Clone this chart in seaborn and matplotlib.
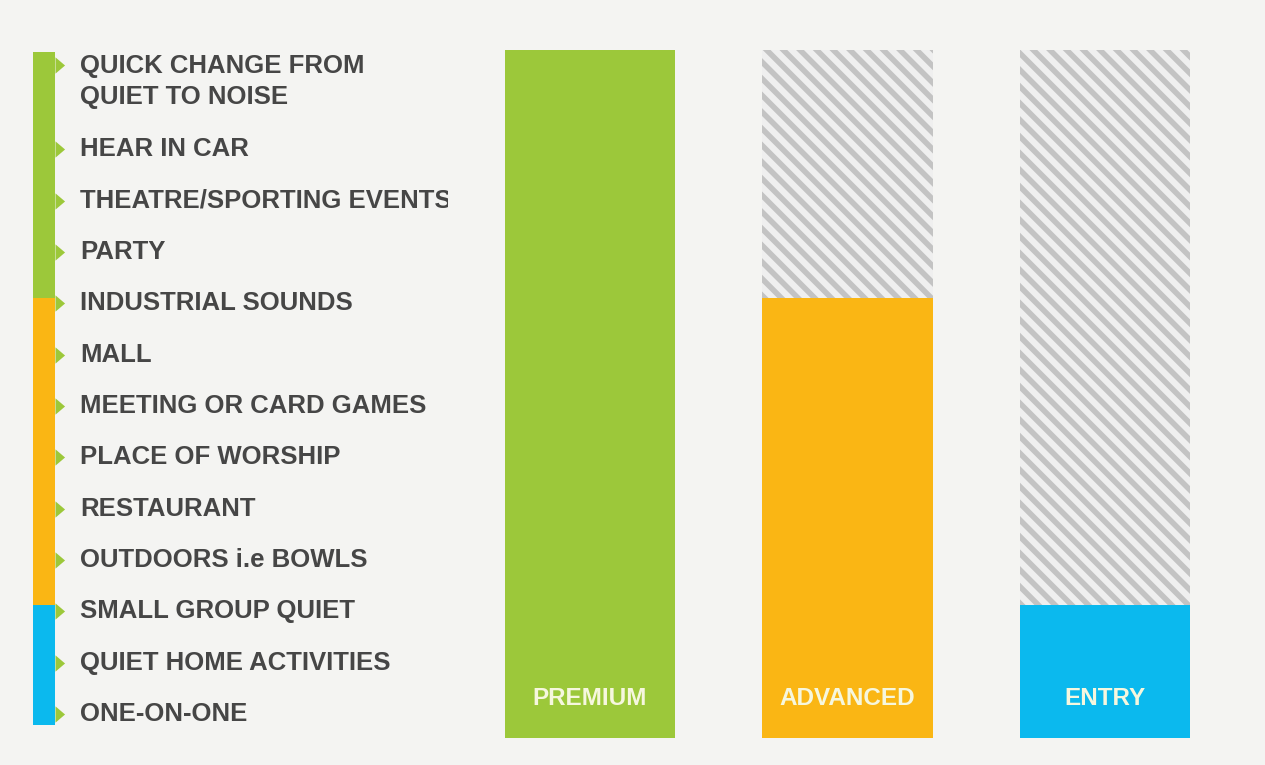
import numpy as np
import seaborn as sns
import matplotlib.pyplot as plt

# tiers and how far up the listening-environment scale each one reaches (% of full scale)
tiers = ["PREMIUM", "ADVANCED", "ENTRY"]
levels = [100, 64.0, 19.3]
tier_colors = ["#9cc83a", "#fab614", "#0bb9ee"]

# environments, bottom (easiest) to top (hardest)
environments = [
    "ONE-ON-ONE",
    "QUIET HOME ACTIVITIES",
    "SMALL GROUP QUIET",
    "OUTDOORS i.e BOWLS",
    "RESTAURANT",
    "PLACE OF WORSHIP",
    "MEETING OR CARD GAMES",
    "MALL",
    "INDUSTRIAL SOUNDS",
    "PARTY",
    "THEATRE/SPORTING EVENTS",
    "HEAR IN CAR",
    "QUICK CHANGE FROM\nQUIET TO NOISE",
]

sns.set_theme(style="white")
plt.rcParams["font.family"] = ["Liberation Sans", "DejaVu Sans"]
plt.rcParams["hatch.linewidth"] = 4.0

bg = "#f4f4f2"
text_grey = "#464646"

fig = plt.figure(figsize=(12.65, 7.65), dpi=100, facecolor=bg)
W, H = 1265.0, 765.0
y_bot, y_top = 738.0, 50.0
ax_b = (H - y_bot) / H
ax_h = (y_bot - y_top) / H

# ---- bars ----
ax = fig.add_axes([461 / W, ax_b, 773 / W, ax_h])
ax.set_facecolor(bg)
sns.barplot(x=tiers, y=[100] * len(tiers), color="#efefef", saturation=1,
            width=0.66, hatch="\\\\", edgecolor="#c3c3c3", linewidth=0, ax=ax)
sns.barplot(x=tiers, y=levels, hue=tiers, palette=tier_colors, saturation=1,
            width=0.66, linewidth=0, legend=False, ax=ax)
for i, name in enumerate(tiers):
    ax.text(i, 5.8, name, ha="center", va="center", fontsize=17.5,
            fontweight="bold", color="#f6f7de")
ax.set_xlim(-0.5, 2.5)
ax.set_ylim(0, 100)
ax.axis("off")

# ---- left scale strip with labels ----
axl = fig.add_axes([0, ax_b, 448 / W, ax_h])
axl.set_facecolor(bg)
axl.set_xlim(0, 448)
axl.set_ylim(0, 100)
axl.axis("off")

strip_lo = 1.9
strip_hi = 99.7
seg_bottoms = [strip_lo, levels[2], levels[1]]
seg_tops = [levels[2], levels[1], strip_hi]
seg_colors = [tier_colors[2], tier_colors[1], tier_colors[0]]
for b, t, c in zip(seg_bottoms, seg_tops, seg_colors):
    axl.bar(44, t - b, bottom=b, width=22, color=c, linewidth=0)

item_y = np.linspace(3.5, 93.0, len(environments))
line_dy = 4.8
tri = [(0, -0.85), (1, 0), (0, 0.85)]
for y, lab in zip(item_y, environments):
    extra = lab.count("\n")
    axl.scatter(54.5, y + extra * line_dy, marker=tri, s=190,
                color=tier_colors[0], linewidths=0, zorder=3)
    axl.text(80, y + extra * line_dy / 2, lab, ha="left", va="center",
             fontsize=18.5, fontweight="bold", color=text_grey,
             linespacing=1.4, clip_on=True)

fig.savefig("out.png", dpi=100, facecolor=bg)
